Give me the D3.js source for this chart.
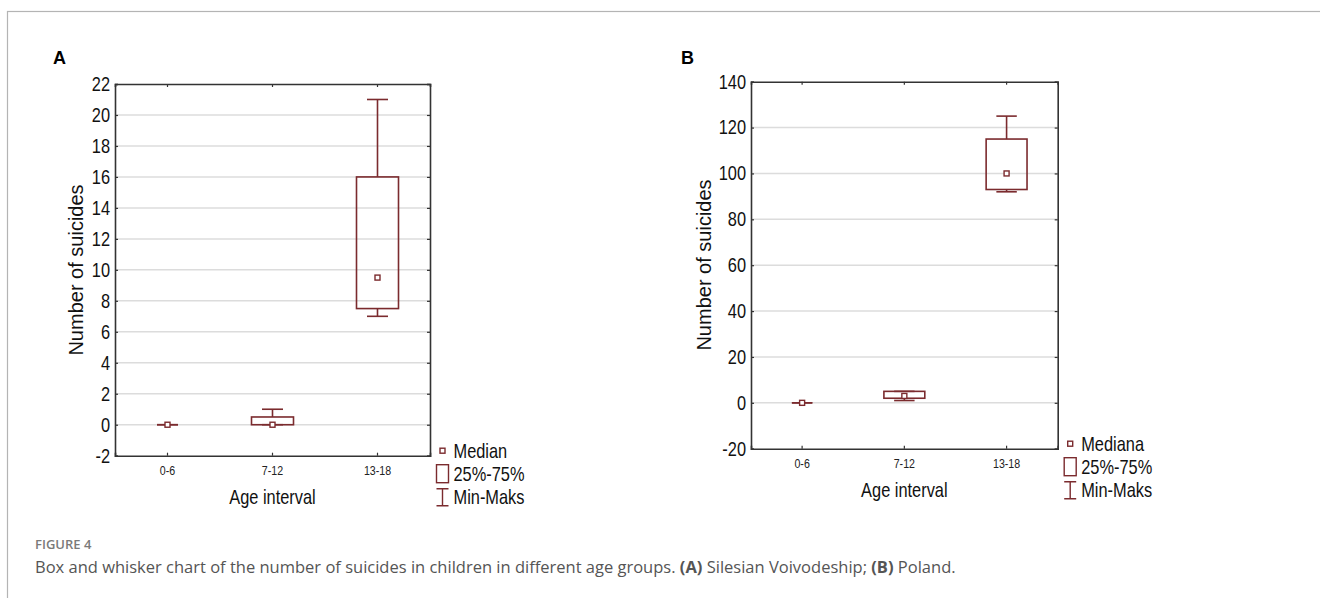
<!DOCTYPE html>
<html lang="en">
<head>
<meta charset="utf-8">
<title>Box and whisker chart</title>
<script src="https://d3js.org/d3.v7.js"></script>
<style>
  body { margin: 0; background: #fff; }
</style>
</head>
<body>
<script>
  // categories
  var ageGroups = ["0-6", "7-12", "13-18"];

  // panel A - Silesian Voivodeship
  var silesiaMin    = [0, 0,   7];
  var silesiaQ1     = [0, 0,   7.5];
  var silesiaMedian = [0, 0,   9.5];
  var silesiaQ3     = [0, 0.5, 16];
  var silesiaMax    = [0, 1,   21];
  var silesiaTicks  = [-2, 0, 2, 4, 6, 8, 10, 12, 14, 16, 18, 20, 22];

  // panel B - Poland
  var polandMin    = [0, 1, 92];
  var polandQ1     = [0, 2, 93];
  var polandMedian = [0, 3, 100];
  var polandQ3     = [0, 5, 115];
  var polandMax    = [0, 5, 125];
  var polandTicks  = [-20, 0, 20, 40, 60, 80, 100, 120, 140];

  var w = 1320, h = 598;
  var boxColor = "#7b2b2e";
  var sans = "'Liberation Sans', Arial, sans-serif";
  var squeeze = 0.82; // the chart text in the figure is horizontally condensed

  var svg = d3.select("body").append("svg")
    .attr("width", w)
    .attr("height", h);

  // narrow text placed at (x, y)
  function narrowText(parent, x, y, str, size, anchor) {
    return parent.append("text")
      .attr("transform", "translate(" + x + "," + y + ") scale(" + squeeze + ",1)")
      .attr("text-anchor", anchor || "start")
      .attr("font-family", sans)
      .attr("font-size", size)
      .attr("fill", "#111")
      .text(str);
  }

  // figure frame
  svg.append("rect")
    .attr("x", 7.5).attr("y", 11.5)
    .attr("width", w).attr("height", h)
    .attr("fill", "none")
    .attr("stroke", "#b4b4b4")
    .attr("stroke-width", 1.2);

  function drawPanel(opt) {
    var rows = ageGroups.map(function (g, i) {
      return { group: g, min: opt.min[i], q1: opt.q1[i], median: opt.median[i], q3: opt.q3[i], max: opt.max[i] };
    });

    var x = d3.scaleBand().domain(ageGroups).range([opt.left, opt.right]).padding(0);
    var y = d3.scaleLinear().domain(d3.extent(opt.ticks)).range([opt.bottom, opt.top]);
    var g = svg.append("g");

    // panel letter
    g.append("text")
      .attr("x", opt.letterX).attr("y", 64)
      .attr("font-family", sans)
      .attr("font-weight", "bold")
      .attr("font-size", 18)
      .attr("fill", "#000")
      .text(opt.letter);

    // gridlines
    g.append("g")
      .selectAll("line")
      .data(opt.ticks.slice(1, -1))
      .enter().append("line")
      .attr("x1", opt.left).attr("x2", opt.right)
      .attr("y1", function (d) { return y(d); })
      .attr("y2", function (d) { return y(d); })
      .attr("stroke", "#dcdcdc")
      .attr("stroke-width", 1.5);

    // axes
    var plain = function (d) { return String(d); };
    var yAxis = d3.axisLeft(y).tickValues(opt.ticks).tickSize(-3).tickPadding(5).tickFormat(plain);
    var yAxisR = d3.axisRight(y).tickValues(opt.ticks).tickSize(-3).tickFormat("");
    var xAxis = d3.axisBottom(x).tickSize(-3).tickPadding(10);
    var xAxisT = d3.axisTop(x).tickSize(-3).tickFormat("");

    var ya = g.append("g").attr("transform", "translate(" + opt.left + ",0)").call(yAxis);
    g.append("g").attr("transform", "translate(" + opt.right + ",0)").call(yAxisR);
    var xa = g.append("g").attr("transform", "translate(0," + opt.bottom + ")").call(xAxis);
    g.append("g").attr("transform", "translate(0," + opt.top + ")").call(xAxisT);

    g.selectAll(".domain").attr("stroke", "#333").attr("stroke-width", 1.6);
    g.selectAll(".tick line").attr("stroke", "#333").attr("stroke-width", 1.2);
    ya.selectAll("text")
      .attr("x", -5 / squeeze)
      .attr("transform", "scale(" + squeeze + ",1)")
      .attr("font-family", sans).attr("font-size", 20).attr("fill", "#111");
    xa.selectAll("text")
      .attr("transform", "scale(" + squeeze + ",1)")
      .attr("font-family", sans).attr("font-size", 13).attr("fill", "#222");

    // axis titles
    narrowText(g, (opt.left + opt.right) / 2, opt.bottom + 48, "Age interval", 20, "middle");

    g.append("text")
      .attr("transform", "translate(" + opt.yTitleX + "," + opt.yTitleY + ") rotate(-90)")
      .attr("text-anchor", "middle")
      .attr("font-family", sans)
      .attr("font-size", 20)
      .attr("fill", "#111")
      .text("Number of suicides");

    // boxes
    var bw = x.bandwidth() * 0.4;
    var cw = x.bandwidth() * 0.2;
    var box = g.append("g")
      .selectAll("g")
      .data(rows)
      .enter().append("g")
      .attr("fill", "none")
      .attr("stroke", boxColor)
      .attr("stroke-width", 1.6);

    function cx(d) { return x(d.group) + x.bandwidth() / 2; }

    box.append("line")
      .attr("x1", cx).attr("x2", cx)
      .attr("y1", function (d) { return y(d.q3); })
      .attr("y2", function (d) { return y(d.max); });
    box.append("line")
      .attr("x1", cx).attr("x2", cx)
      .attr("y1", function (d) { return y(d.q1); })
      .attr("y2", function (d) { return y(d.min); });
    box.append("line")
      .attr("x1", function (d) { return cx(d) - cw / 2; })
      .attr("x2", function (d) { return cx(d) + cw / 2; })
      .attr("y1", function (d) { return y(d.max); })
      .attr("y2", function (d) { return y(d.max); });
    box.append("line")
      .attr("x1", function (d) { return cx(d) - cw / 2; })
      .attr("x2", function (d) { return cx(d) + cw / 2; })
      .attr("y1", function (d) { return y(d.min); })
      .attr("y2", function (d) { return y(d.min); });
    box.append("rect")
      .attr("x", function (d) { return cx(d) - bw / 2; })
      .attr("y", function (d) { return y(d.q3); })
      .attr("width", bw)
      .attr("height", function (d) { return y(d.q1) - y(d.q3); });
    box.append("rect")
      .attr("x", function (d) { return cx(d) - 2.5; })
      .attr("y", function (d) { return y(d.median) - 2.5; })
      .attr("width", 5).attr("height", 5)
      .attr("fill", "#fff")
      .attr("stroke-width", 1.4);

    // legend
    var lx = opt.right + 12.5;
    var tx = opt.right + 23.5;
    var lg = g.append("g");
    var items = [opt.medianLabel, "25%-75%", "Min-Maks"];
    var ly = [opt.bottom - 5, opt.bottom + 18, opt.bottom + 41];

    lg.append("rect")
      .attr("x", lx - 2.5).attr("y", ly[0] - 2.5)
      .attr("width", 5).attr("height", 5)
      .attr("fill", "#fff").attr("stroke", boxColor).attr("stroke-width", 1.4);
    lg.append("rect")
      .attr("x", lx - 6).attr("y", ly[1] - 9)
      .attr("width", 12).attr("height", 18)
      .attr("fill", "none").attr("stroke", boxColor).attr("stroke-width", 1.4);
    lg.append("path")
      .attr("d", "M" + (lx - 6) + "," + (ly[2] - 8) + "H" + (lx + 6) +
                 "M" + lx + "," + (ly[2] - 8) + "V" + (ly[2] + 9) +
                 "M" + (lx - 6) + "," + (ly[2] + 9) + "H" + (lx + 6))
      .attr("fill", "none").attr("stroke", boxColor).attr("stroke-width", 1.4);

    items.forEach(function (d, i) {
      narrowText(lg, tx, ly[i], d, 20).attr("dy", "0.35em");
    });
  }

  drawPanel({
    letter: "A", letterX: 53,
    left: 115, right: 430, top: 84, bottom: 455.7,
    ticks: silesiaTicks,
    min: silesiaMin, q1: silesiaQ1, median: silesiaMedian, q3: silesiaQ3, max: silesiaMax,
    yTitleX: 83, yTitleY: 270,
    medianLabel: "Median"
  });

  drawPanel({
    letter: "B", letterX: 681,
    left: 751, right: 1057.7, top: 81.7, bottom: 448.7,
    ticks: polandTicks,
    min: polandMin, q1: polandQ1, median: polandMedian, q3: polandQ3, max: polandMax,
    yTitleX: 711, yTitleY: 265,
    medianLabel: "Mediana"
  });

  // caption
  svg.append("text")
    .attr("x", 35).attr("y", 549)
    .attr("font-family", "'Open Sans', 'Noto Sans', sans-serif")
    .attr("font-size", 13)
    .attr("font-weight", 600)
    .attr("fill", "#7a7a7a")
    .text("FIGURE 4");

  var cap = svg.append("text")
    .attr("x", 35).attr("y", 573)
    .attr("font-family", "'Open Sans', 'Noto Sans', sans-serif")
    .attr("font-size", 16.5)
    .attr("fill", "#555");
  cap.append("tspan").text("Box and whisker chart of the number of suicides in children in different age groups. ");
  cap.append("tspan").attr("font-weight", "bold").text("(A)");
  cap.append("tspan").text(" Silesian Voivodeship; ");
  cap.append("tspan").attr("font-weight", "bold").text("(B)");
  cap.append("tspan").text(" Poland.");
</script>
</body>
</html>
